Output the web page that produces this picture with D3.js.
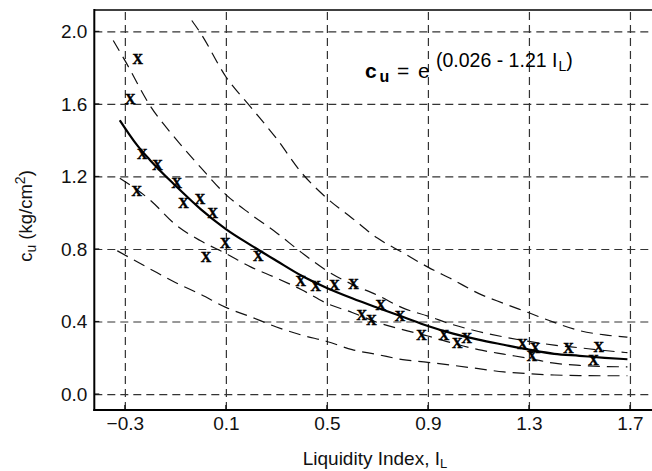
<!DOCTYPE html>
<html><head><meta charset="utf-8">
<script src="https://cdn.jsdelivr.net/npm/d3@7"></script>
<style>html,body{margin:0;padding:0;background:#fff;} svg{display:block;}</style>
</head><body>
<svg id="chart" width="652" height="471"></svg>
<script>
// ---- data ----
const xTicks = [-0.3, 0.1, 0.5, 0.9, 1.3, 1.7];
const yTicks = [0.0, 0.4, 0.8, 1.2, 1.6, 2.0];

const pointsIL = [-0.249,-0.279,-0.231,-0.171,-0.095,-0.253,-0.068,-0.002,0.048,0.097,0.021,0.228,
  0.396,0.456,0.530,0.605,0.638,0.677,0.713,0.789,0.875,0.964,1.016,1.054,
  1.275,1.325,1.312,1.457,1.576,1.556];
const pointsCu = [1.848,1.627,1.322,1.263,1.162,1.116,1.052,1.074,1.000,0.831,0.757,0.761,
  0.625,0.592,0.598,0.607,0.436,0.405,0.491,0.430,0.326,0.326,0.283,0.307,
  0.276,0.252,0.206,0.252,0.261,0.188];

const fitIL = [-0.32,-0.25,-0.2,-0.1,0.0,0.1,0.2,0.3,0.4,0.5,0.6,0.7,0.8,0.9,1.0,1.1,1.2,1.3,1.4,1.5,1.6,1.69];
const fitCu = [1.51,1.37,1.29,1.15,1.02,0.91,0.82,0.735,0.652,0.585,0.528,0.476,0.426,0.375,0.333,0.30,0.272,0.245,0.222,0.211,0.20,0.192];

const outerUpperIL = [-0.035,0.0,0.1,0.2,0.3,0.4,0.5,0.6,0.7,0.8,0.9,1.0,1.1,1.2,1.3,1.4,1.5,1.6,1.69];
const outerUpperCu = [2.06,1.99,1.75,1.58,1.41,1.22,1.08,0.97,0.86,0.78,0.70,0.63,0.555,0.50,0.448,0.395,0.35,0.326,0.314];

const innerUpperIL = [-0.346,-0.3,-0.2,-0.1,0.0,0.1,0.2,0.3,0.4,0.5,0.6,0.7,0.8,0.9,1.0,1.1,1.2,1.3,1.4,1.5,1.6,1.69];
const innerUpperCu = [1.95,1.84,1.59,1.41,1.25,1.10,0.99,0.89,0.78,0.68,0.605,0.545,0.475,0.43,0.382,0.345,0.315,0.29,0.27,0.255,0.24,0.228];

const innerLowerIL = [-0.32,-0.2,-0.1,0.0,0.1,0.2,0.3,0.4,0.5,0.6,0.7,0.8,0.9,1.0,1.1,1.2,1.3,1.4,1.5,1.6,1.69];
const innerLowerCu = [1.19,1.07,0.935,0.845,0.775,0.70,0.64,0.575,0.50,0.45,0.395,0.355,0.32,0.28,0.245,0.22,0.197,0.17,0.158,0.152,0.15];

const outerLowerIL = [-0.33,-0.2,-0.1,0.0,0.1,0.2,0.3,0.4,0.5,0.6,0.7,0.8,0.9,1.0,1.1,1.2,1.3,1.4,1.5,1.6,1.69];
const outerLowerCu = [0.79,0.69,0.615,0.55,0.478,0.425,0.37,0.325,0.29,0.245,0.218,0.19,0.175,0.158,0.14,0.122,0.112,0.105,0.102,0.101,0.101];

// ---- layout ----
const L = 94.3, R = 660, T = 10, B = 410;
const svg = d3.select("#chart");
const FONT = "'Liberation Sans', Arial, Helvetica, sans-serif";

const x = d3.scaleLinear().domain([-0.421, 1.819]).range([L, R]);
const y = d3.scaleLinear().domain([-0.088, 2.118]).range([B, T]);

svg.append("rect").attr("width", 652).attr("height", 471).attr("fill", "#fff");

svg.append("defs").append("clipPath").attr("id", "plotclip")
  .append("rect").attr("x", L).attr("y", T).attr("width", R - L).attr("height", B - T);

// grid + tick labels via axes
const fmt = d3.format(".1f");
const gy = svg.append("g").attr("transform", `translate(${L},0)`)
  .call(d3.axisLeft(y).tickValues(yTicks).tickFormat(fmt).tickSize(-(R - L)).tickPadding(7));
const gx = svg.append("g").attr("transform", `translate(0,${B})`)
  .call(d3.axisBottom(x).tickValues(xTicks).tickFormat(fmt).tickSize(-(B - T)).tickPadding(6.5));

[gx, gy].forEach(g => {
  g.select(".domain").remove();
  g.selectAll(".tick line").attr("stroke", "#333").attr("stroke-width", 1.2)
    .attr("stroke-dasharray", "8,5");
  g.selectAll(".tick text").attr("font-family", FONT).attr("font-size", 19).attr("fill", "#111");
});

// short solid inward ticks
svg.append("g").selectAll("line").data(yTicks).join("line")
  .attr("x1", L).attr("x2", L + 5).attr("y1", d => y(d)).attr("y2", d => y(d))
  .attr("stroke", "#111").attr("stroke-width", 1.2);
svg.append("g").selectAll("line").data(xTicks).join("line")
  .attr("x1", d => x(d)).attr("x2", d => x(d)).attr("y1", B).attr("y2", B - 5)
  .attr("stroke", "#111").attr("stroke-width", 1.2);

// frame
svg.append("line").attr("x1", L).attr("x2", L).attr("y1", T - 1).attr("y2", B + 1)
  .attr("stroke", "#000").attr("stroke-width", 2);
svg.append("line").attr("x1", L - 1).attr("x2", 652).attr("y1", B).attr("y2", B)
  .attr("stroke", "#000").attr("stroke-width", 2);
svg.append("line").attr("x1", L).attr("x2", 652).attr("y1", T).attr("y2", T)
  .attr("stroke", "#000").attr("stroke-width", 1.6);

// curves
const line = d3.line().x(d => x(d[0])).y(d => y(d[1])).curve(d3.curveMonotoneX);
const zip = (a, b) => a.map((v, i) => [v, b[i]]);
const plot = svg.append("g").attr("clip-path", "url(#plotclip)");

const bands = [
  zip(outerUpperIL, outerUpperCu),
  zip(innerUpperIL, innerUpperCu),
  zip(innerLowerIL, innerLowerCu),
  zip(outerLowerIL, outerLowerCu)
];
plot.selectAll("path.band").data(bands).join("path").attr("class", "band")
  .attr("d", line).attr("fill", "none").attr("stroke", "#111")
  .attr("stroke-width", 1.2).attr("stroke-dasharray", "12,7");

plot.append("path").datum(zip(fitIL, fitCu)).attr("d", line)
  .attr("fill", "none").attr("stroke", "#000").attr("stroke-width", 2.2);

// data points as bold serif X marks
svg.append("g").selectAll("text").data(zip(pointsIL, pointsCu)).join("text")
  .attr("x", d => x(d[0])).attr("y", d => y(d[1]) + 4.8)
  .attr("text-anchor", "middle")
  .attr("font-family", "'Liberation Serif', 'Times New Roman', serif")
  .attr("font-weight", "bold").attr("font-size", 14.5).attr("fill", "#000")
  .attr("stroke", "#000").attr("stroke-width", 0.5)
  .text("X");

// equation
const eq = svg.append("text").attr("font-family", FONT).attr("fill", "#000");
eq.append("tspan").attr("x", 365).attr("y", 78).attr("font-size", 21).attr("font-weight", "bold").text("c");
eq.append("tspan").attr("x", 379.5).attr("y", 82).attr("font-size", 16).attr("font-weight", "bold").text("u");
eq.append("tspan").attr("x", 397).attr("y", 78).attr("font-size", 21).text("=");
eq.append("tspan").attr("x", 418).attr("y", 78).attr("font-size", 21).text("e");
eq.append("tspan").attr("x", 436).attr("y", 67).attr("font-size", 19.5).text("(0.026 - 1.21 I");
eq.append("tspan").attr("dx", 1).attr("y", 71).attr("font-size", 14).text("L");
eq.append("tspan").attr("y", 67).attr("font-size", 19.5).text(")");

// x axis title
const xt = svg.append("text").attr("x", 375).attr("y", 465).attr("text-anchor", "middle")
  .attr("font-family", FONT).attr("font-size", 19).attr("fill", "#111");
xt.append("tspan").text("Liquidity Index, I");
xt.append("tspan").attr("font-size", 13).attr("dy", 3).text("L");

// y axis title
const yt = svg.append("text").attr("transform", "translate(32,216) rotate(-90)")
  .attr("text-anchor", "middle").attr("font-family", FONT).attr("font-size", 18.5).attr("fill", "#111");
yt.append("tspan").text("c");
yt.append("tspan").attr("font-size", 14).attr("dy", 4).text("u");
yt.append("tspan").attr("dy", -4).text(" (kg/cm");
yt.append("tspan").attr("font-size", 14).attr("dy", -7).text("2");
yt.append("tspan").attr("dy", 7).text(")");
</script>
</body></html>
